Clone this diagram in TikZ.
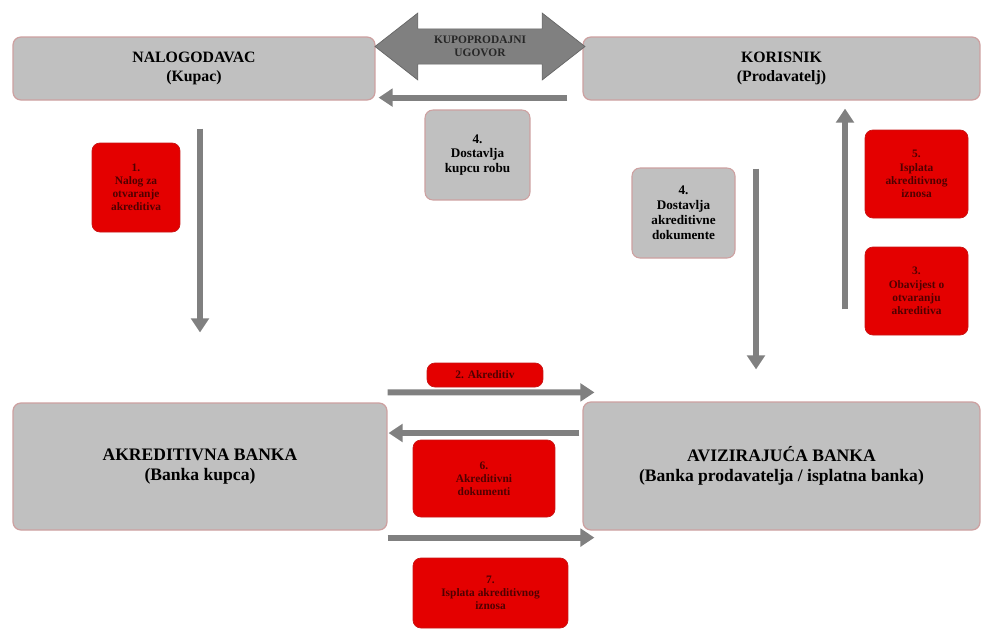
\documentclass[tikz,border=0pt]{standalone}
\usepackage{fontspec}
\setmainfont{Liberation Serif}
\usetikzlibrary{arrows.meta}
\usetikzlibrary{shapes.arrows}

\definecolor{boxgrey}{RGB}{192,192,192}
\definecolor{boxrim}{RGB}{205,160,160}
\definecolor{stepred}{RGB}{228,0,0}
\definecolor{redrim}{RGB}{200,20,20}
\definecolor{redtext}{RGB}{80,0,0}
\definecolor{arrowgrey}{RGB}{128,128,128}

\tikzset{
  party/.style={draw=boxrim, fill=boxgrey, rounded corners=4.5pt, line width=0.7pt,
    inner sep=0pt, align=center, font=\bfseries\fontsize{9}{11}\selectfont},
  bank/.style={party, font=\bfseries\fontsize{10}{11.5}\selectfont},
  greystep/.style={draw=boxrim, fill=boxgrey, rounded corners=4.5pt, line width=0.6pt,
    inner sep=0pt, align=center, font=\bfseries\fontsize{7.5}{8.5}\selectfont},
  redstep/.style={draw=redrim, fill=stepred, text=redtext, rounded corners=4.5pt,
    inner sep=0pt, align=center, font=\bfseries\fontsize{6.5}{7.5}\selectfont},
  flow/.style={draw=arrowgrey, line width=3.5pt, -{Triangle[length=8pt,width=10pt]}},
}

\begin{document}
\begin{tikzpicture}[x=0.02cm, y=-0.02cm]
    \useasboundingbox (0,0) rectangle (983,633);

    % Parties and banks
    \node[party, minimum width=7.24cm, minimum height=1.26cm] (kupac) at (194,68.5) {NALOGODAVAC\\(Kupac)};
    \node[party, minimum width=7.94cm, minimum height=1.26cm] (korisnik) at (781.5,68.5) {KORISNIK\\(Prodavatelj)};
    \node[bank, minimum width=7.48cm, minimum height=2.54cm] (akbanka) at (200,466.5) {AKREDITIVNA BANKA\\(Banka kupca)};
    \node[bank, minimum width=7.94cm, minimum height=2.56cm] (avbanka) at (781.5,466) {AVIZIRAJUĆA BANKA\\(Banka prodavatelja / isplatna banka)};

    % Contract between buyer and seller
    \node[double arrow, fill=arrowgrey, draw=arrowgrey!80!black, minimum height=4.2cm,
      minimum width=1.34cm, double arrow head extend=0.29cm, double arrow tip angle=76,
      inner xsep=1pt, inner ysep=3pt, align=center, text=black!85,
      font=\bfseries\fontsize{6.5}{7.5}\selectfont] (ugovor) at (480,46.5) {KUPOPRODAJNI\\UGOVOR};

    % Flows
    \draw[flow] ([shift={(-15,-3)}]korisnik.south west) -- ([shift={(3,-3)}]kupac.south east);
    \draw[flow] ([shift={(6,28)}]kupac.south) -- ([shift={(0,-70)}]akbanka.north);
    \draw[flow] ([shift={(-25.5,68)}]korisnik.south) -- ([shift={(-25.5,-32)}]avbanka.north);
    \draw[flow] ([shift={(63.5,-92)}]avbanka.north) -- ([shift={(63.5,8)}]korisnik.south);
    \draw[flow] ([shift={(0,-10)}]akbanka.north east) -- ([shift={(12,-9)}]avbanka.north west);
    \draw[flow] ([shift={(-3,-33)}]avbanka.west) -- ([shift={(1,-33.5)}]akbanka.east);
    \draw[flow] ([shift={(0,7)}]akbanka.south east) -- ([shift={(12,7)}]avbanka.south west);

    % Steps
    \node[redstep, minimum width=1.76cm, minimum height=1.78cm] (nalog) at (136,187.5) {1.\\Nalog za\\otvaranje\\akreditiva};
    \node[redstep, minimum width=2.32cm, minimum height=0.48cm] (akreditiv) at (485,375) {2. Akreditiv};
    \node[redstep, minimum width=2.06cm, minimum height=1.76cm] (obavijest) at (916.5,291) {3.\\Obavijest o\\otvaranju\\akreditiva};
    \node[greystep, minimum width=2.1cm, minimum height=1.8cm] (roba) at (477.5,155) {4.\\Dostavlja\\kupcu robu};
    \node[greystep, minimum width=2.06cm, minimum height=1.8cm] (dokumenti) at (683.5,213) {4.\\Dostavlja\\akreditivne\\dokumente};
    \node[redstep, minimum width=2.06cm, minimum height=1.76cm] (isplata) at (916.5,174) {5.\\Isplata\\akreditivnog\\iznosa};
    \node[redstep, minimum width=2.84cm, minimum height=1.54cm] (akdok) at (484,478.5) {6.\\Akreditivni\\dokumenti};
    \node[redstep, minimum width=3.1cm, minimum height=1.4cm] (naknada) at (490.5,593) {7.\\Isplata akreditivnog\\iznosa};
\end{tikzpicture}
\end{document}
